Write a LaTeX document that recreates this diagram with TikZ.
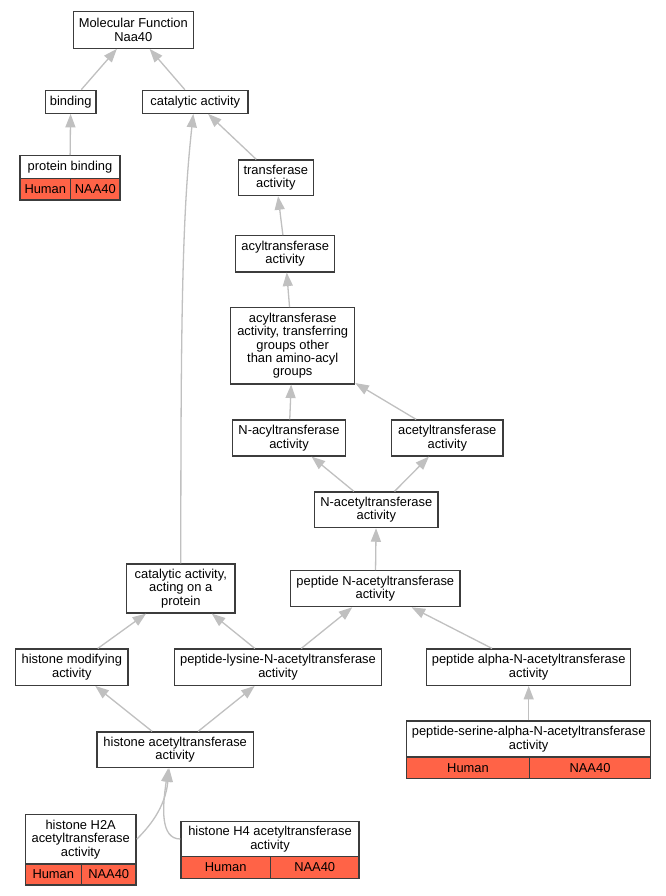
\documentclass[tikz,border=0pt]{standalone}
\usepackage{fontspec}
\setmainfont{Liberation Sans}
\usetikzlibrary{arrows.meta}

\definecolor{boxline}{RGB}{60,60,60}
\definecolor{edgegray}{RGB}{192,192,192}
\definecolor{hitred}{RGB}{255,99,71}

\tikzset{
    term/.style={draw=boxline, line width=1.2pt, fill=white, align=center, inner sep=0pt,
        font=\fontsize{12.9}{13.4}\selectfont},
    hit/.style={term, fill=hitred},
    isa/.style={draw=edgegray, line width=1.3pt, -{Triangle[length=13.5pt, width=10pt]}}
}

\begin{document}
\begin{tikzpicture}[x=1pt, y=-1pt]

        \fill[white] (0,0) rectangle (665,896);
        \useasboundingbox (0,0) rectangle (665,896);

        % top:
        \node(MF)[term, minimum width=120pt, minimum height=36.6pt] at (133.3,30) {Molecular Function\\Naa40};
        \node(binding)[term, minimum width=50.7pt, minimum height=23pt] at (70.7,101.8) {binding};
        \node(cat)[term, minimum width=105.3pt, minimum height=23pt] at (195.3,101.8) {catalytic activity};
        \draw[isa] (binding) -- (MF);
        \draw[isa] (cat) -- (MF);

        % protein binding:
        \node(pb)[term, minimum width=100pt, minimum height=22.6pt] at (70,167) {protein binding};
        \node(pbH)[hit, minimum width=50.7pt, minimum height=21.7pt] at (45.3,189.2) {Human};
        \node(pbN)[hit, minimum width=49.3pt, minimum height=21.7pt] at (95.3,189.2) {NAA40};
        \draw[isa] (pb) -- (binding);

        % transferase chain:
        \node(transf)[term, minimum width=75pt, minimum height=35.7pt] at (275.8,177.8) {transferase\\activity};
        \draw[isa] (transf) -- (cat);
        \node(acyl)[term, minimum width=99pt, minimum height=36.3pt] at (285.2,253.8) {acyltransferase\\activity};
        \draw[isa] (acyl) -- (transf);
        \node(groups)[term, minimum width=124pt, minimum height=76.3pt] at (292.7,345.8) {acyltransferase\\activity, transferring\\groups other\\than amino-acyl\\groups};
        \draw[isa] (groups) -- (acyl);
        \node(nacyl)[term, minimum width=112.6pt, minimum height=36pt] at (289,438) {N-acyltransferase\\activity};
        \draw[isa] (nacyl) -- (groups);
        \node(acetyl)[term, minimum width=111.3pt, minimum height=36pt] at (447.3,438) {acetyltransferase\\activity};
        \draw[isa] (acetyl) -- (groups);
        \node(nacetyl)[term, minimum width=123.3pt, minimum height=35.7pt] at (376.3,509.8) {N-acetyltransferase\\activity};
        \draw[isa] (nacetyl) -- (nacyl);
        \draw[isa] (nacetyl) -- (acetyl);
        \node(pnat)[term, minimum width=169.3pt, minimum height=36pt] at (375.3,588.7) {peptide N-acetyltransferase\\activity};
        \draw[isa] (pnat) -- (nacetyl);

        % acting on a protein:
        \node(cap)[term, minimum width=108.3pt, minimum height=49pt] at (180.8,588.5) {catalytic activity,\\acting on a\\protein};
        \draw[isa] (cap.north) .. controls +(0,-250) and +(-11,100) .. ([xshift=-2pt]cat.south);

        % middle row:
        \node(hm)[term, minimum width=112.3pt, minimum height=36.3pt] at (71.8,667.2) {histone modifying\\activity};
        \node(plys)[term, minimum width=206.6pt, minimum height=36.3pt] at (278,667.2) {peptide-lysine-N-acetyltransferase\\activity};
        \node(palpha)[term, minimum width=204pt, minimum height=36.3pt] at (528.7,667.2) {peptide alpha-N-acetyltransferase\\activity};
        \draw[isa] (hm) -- (cap);
        \draw[isa] (plys) -- (cap);
        \draw[isa] (plys) -- (pnat);
        \draw[isa] (palpha) -- (pnat);

        % peptide-serine:
        \node(pser)[term, minimum width=244pt, minimum height=36pt] at (528.7,739) {peptide-serine-alpha-N-acetyltransferase\\activity};
        \node(pserH)[hit, minimum width=122.6pt, minimum height=21.7pt] at (468,767.8) {Human};
        \node(pserN)[hit, minimum width=121.4pt, minimum height=21.7pt] at (590,767.8) {NAA40};
        \draw[isa] (pser) -- (palpha);

        % histone acetyltransferase:
        \node(hat)[term, minimum width=156.3pt, minimum height=35.7pt] at (175.2,749.8) {histone acetyltransferase\\activity};
        \draw[isa] (hat) -- (hm);
        \draw[isa] (hat) -- (plys);

        % H2A:
        \node(h2a)[term, minimum width=110.7pt, minimum height=49.3pt] at (80.7,839.3) {histone H2A\\acetyltransferase\\activity};
        \node(h2aH)[hit, minimum width=56pt, minimum height=21pt] at (53.3,874.5) {Human};
        \node(h2aN)[hit, minimum width=54.7pt, minimum height=21pt] at (108.7,874.5) {NAA40};
        \draw[isa] (h2a.east) .. controls +(12,-12) and +(-4,40) .. ([xshift=-6pt]hat.south);

        % H4:
        \node(h4)[term, minimum width=178pt, minimum height=35.4pt] at (270,839) {histone H4 acetyltransferase\\activity};
        \node(h4H)[hit, minimum width=89.3pt, minimum height=21.6pt] at (225.7,867.5) {Human};
        \node(h4N)[hit, minimum width=88.7pt, minimum height=21.6pt] at (314.7,867.5) {NAA40};
        \draw[isa] (h4.west) .. controls +(-20,0) and +(-6,40) .. ([xshift=-7pt]hat.south);

    \end{tikzpicture}
\end{document}
